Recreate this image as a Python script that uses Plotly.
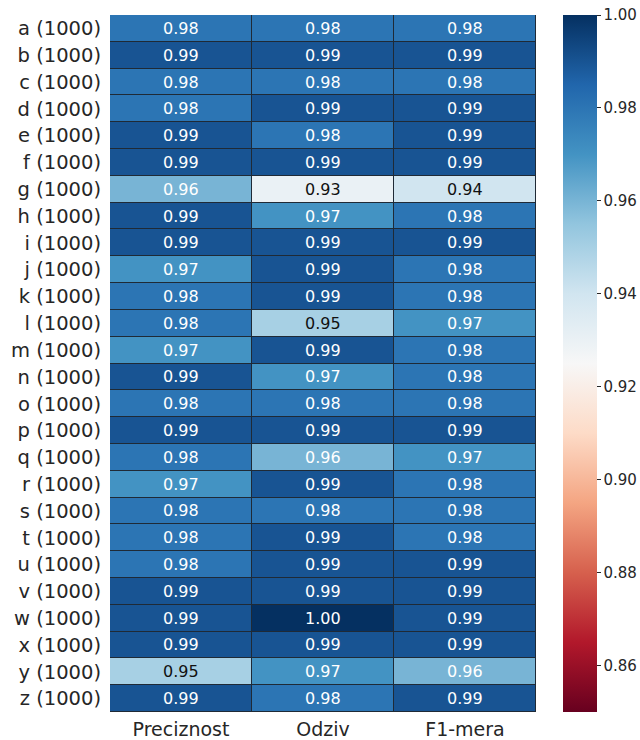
import plotly.graph_objects as go

# Row labels (dataset name with sample count) and metric columns
rows = [f"{c} (1000)" for c in "abcdefghijklmnopqrstuvwxyz"]
metrics = ["Preciznost", "Odziv", "F1-mera"]

# Per-row scores
preciznost = [0.98, 0.99, 0.98, 0.98, 0.99, 0.99, 0.96, 0.99, 0.99, 0.97, 0.98, 0.98, 0.97,
              0.99, 0.98, 0.99, 0.98, 0.97, 0.98, 0.98, 0.98, 0.99, 0.99, 0.99, 0.95, 0.99]
odziv = [0.98, 0.99, 0.98, 0.99, 0.98, 0.99, 0.93, 0.97, 0.99, 0.99, 0.99, 0.95, 0.99,
         0.97, 0.98, 0.99, 0.96, 0.99, 0.98, 0.99, 0.99, 0.99, 1.00, 0.99, 0.97, 0.98]
f1_mera = [0.98, 0.99, 0.98, 0.99, 0.99, 0.99, 0.94, 0.98, 0.99, 0.98, 0.98, 0.97, 0.98,
           0.98, 0.98, 0.99, 0.97, 0.98, 0.98, 0.98, 0.99, 0.99, 0.99, 0.99, 0.96, 0.99]

vmin, vmax = 0.85, 1.00
cbar_ticks = [0.86, 0.88, 0.90, 0.92, 0.94, 0.96, 0.98, 1.00]

# Diverging red-blue palette (ColorBrewer RdBu, red at the low end)
rdbu = ["#67001f", "#b2182b", "#d6604d", "#f4a582", "#fddbc7", "#f7f7f7",
        "#d1e5f0", "#92c5de", "#4393c3", "#2166ac", "#053061"]
colorscale = [[i / (len(rdbu) - 1), c] for i, c in enumerate(rdbu)]


def hex_rgb(h):
    return tuple(int(h[i:i + 2], 16) / 255 for i in (1, 3, 5))


def cmap(v):
    t = min(max((v - vmin) / (vmax - vmin), 0), 1) * (len(rdbu) - 1)
    i = min(int(t), len(rdbu) - 2)
    f = t - i
    a, b = hex_rgb(rdbu[i]), hex_rgb(rdbu[i + 1])
    return tuple(a[k] + (b[k] - a[k]) * f for k in range(3))


def luminance(rgb):
    lin = [c / 12.92 if c <= 0.03928 else ((c + 0.055) / 1.055) ** 2.4 for c in rgb]
    return 0.2126 * lin[0] + 0.7152 * lin[1] + 0.0722 * lin[2]


z = [[p, o, f] for p, o, f in zip(preciznost, odziv, f1_mera)]

fig = go.Figure(go.Heatmap(
    z=z, x=metrics, y=rows,
    zmin=vmin, zmax=vmax, colorscale=colorscale,
    xgap=1, ygap=1, hoverinfo="skip",
    colorbar=dict(
        x=1.063, xanchor="left", xpad=0,
        y=0.5, yanchor="middle", len=1, lenmode="fraction", ypad=0,
        thickness=34, thicknessmode="pixels",
        outlinewidth=0,
        tickvals=cbar_ticks, ticktext=[f"{t:.2f}" for t in cbar_ticks],
        ticks="outside", ticklen=4, tickwidth=1, tickcolor="#262626",
        tickfont=dict(family="DejaVu Sans", size=15, color="#262626"),
    ),
))

# Cell value labels, dark on light cells and white on dark ones
for r, row in enumerate(rows):
    for c, m in enumerate(metrics):
        v = z[r][c]
        col = "#111111" if luminance(cmap(v)) > 0.45 else "#ffffff"
        fig.add_annotation(x=m, y=row, text=f"{v:.2f}", showarrow=False,
                           font=dict(family="DejaVu Sans", size=16, color=col))

fig.update_layout(
    width=640, height=740,
    margin=dict(l=110, r=104, t=15, b=28, autoexpand=False),
    paper_bgcolor="white", plot_bgcolor="#1f2a36",
    font=dict(family="DejaVu Sans", color="#262626"),
    xaxis=dict(showgrid=False, zeroline=False, ticks="", ticklen=0, automargin=False,
               ticklabelstandoff=4,
               tickfont=dict(size=19, color="#262626")),
    yaxis=dict(showgrid=False, zeroline=False, autorange="reversed", ticks="",
               automargin=False, ticklabelstandoff=8,
               tickfont=dict(size=19.5, color="#262626")),
)

fig.write_html("out.html")
